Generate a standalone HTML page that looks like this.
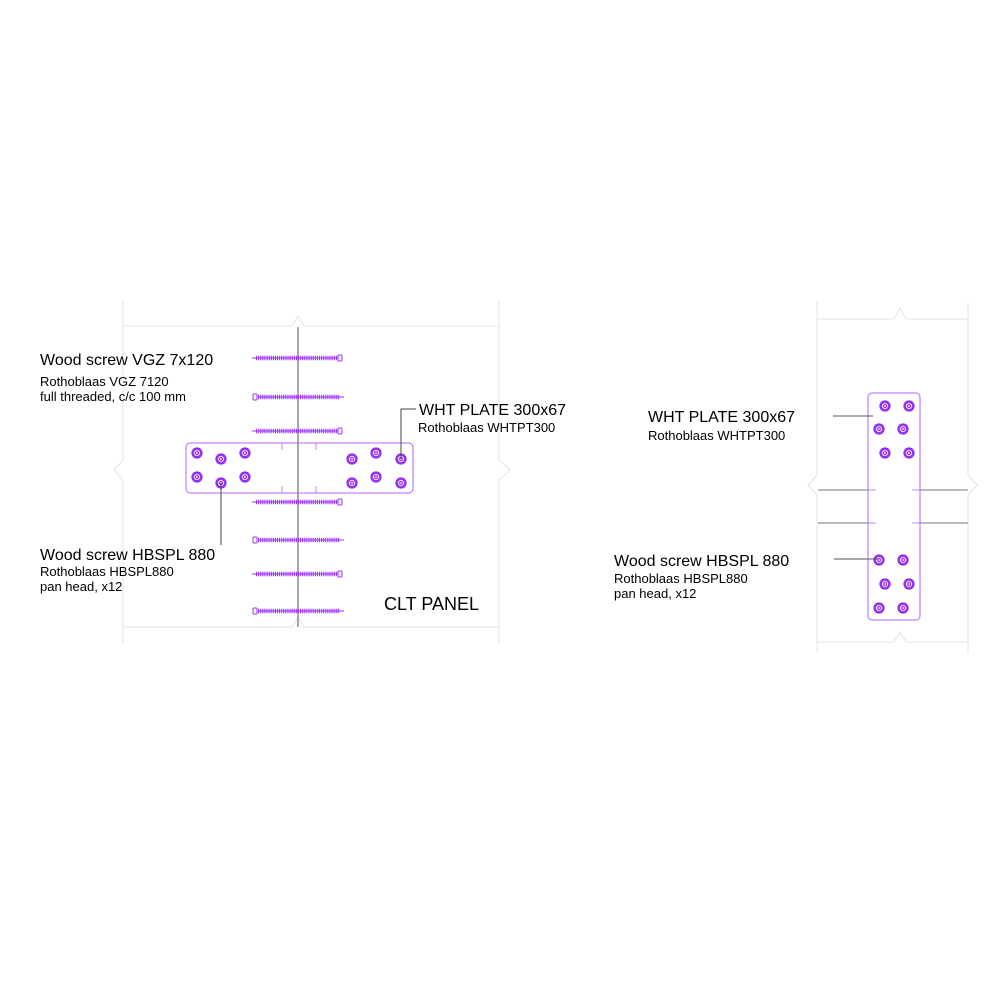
<!DOCTYPE html>
<html><head><style>
body{margin:0;background:#fff;}
svg{display:block;font-family:"Liberation Sans",sans-serif;}
</style></head><body>
<svg width="1000" height="999" viewBox="0 0 1000 999" xmlns="http://www.w3.org/2000/svg">
<defs>
<g id="bolt"><circle r="5.2" fill="#9933ff" stroke="#8a2be2" stroke-width="0.8"/><circle r="2.6" fill="none" stroke="#fff" stroke-width="0.9"/><circle r="0.9" fill="#fff"/></g>
<g id="scrR">
<line x1="256" y1="0" x2="338" y2="0" stroke="#9933ff" stroke-width="4.5" stroke-dasharray="1.1 1"/>
<line x1="252" y1="0" x2="338" y2="0" stroke="#9933ff" stroke-width="1"/>
<rect x="338" y="-3" width="4" height="6" rx="1" fill="#fff" stroke="#9933ff" stroke-width="1"/></g>
<g id="scrL">
<line x1="258" y1="0" x2="340" y2="0" stroke="#9933ff" stroke-width="4.5" stroke-dasharray="1.1 1"/>
<line x1="258" y1="0" x2="344" y2="0" stroke="#9933ff" stroke-width="1"/>
<rect x="253" y="-3" width="4" height="6" rx="1" fill="#fff" stroke="#9933ff" stroke-width="1"/></g>
</defs>
<g stroke="#e3e3e3" stroke-width="1" fill="none">
<polyline points="123,300 123,460 114,470 123,480 123,645"/>
<polyline points="499,300 499,460 510,470 499,480 499,645"/>
<polyline points="123,326 292,326 298,316 304,326 499,326"/>
<polyline points="123,627 292,627 298,617 304,627 499,627"/>
</g>
<line x1="298" y1="327" x2="298" y2="627" stroke="#888" stroke-width="1.5"/>
<use href="#scrR" y="358"/>
<use href="#scrL" y="397"/>
<use href="#scrR" y="431"/>
<use href="#scrR" y="502"/>
<use href="#scrL" y="540"/>
<use href="#scrR" y="574"/>
<use href="#scrL" y="611"/>
<rect x="186" y="443" width="227" height="50" rx="4" fill="#fff" stroke="#b366ff" stroke-width="1"/>
<g stroke="#b366ff" stroke-width="0.8"><line x1="282" y1="443" x2="282" y2="450"/><line x1="316" y1="443" x2="316" y2="450"/><line x1="282" y1="486" x2="282" y2="493"/><line x1="316" y1="486" x2="316" y2="493"/></g>
<line x1="298" y1="443" x2="298" y2="493" stroke="#888" stroke-width="1.5"/>
<use href="#bolt" x="197" y="453"/><use href="#bolt" x="221" y="459"/><use href="#bolt" x="245" y="453"/>
<use href="#bolt" x="197" y="477"/><use href="#bolt" x="221" y="483"/><use href="#bolt" x="245" y="477"/>
<use href="#bolt" x="352" y="459"/><use href="#bolt" x="376" y="453"/><use href="#bolt" x="401" y="459"/>
<use href="#bolt" x="352" y="483"/><use href="#bolt" x="376" y="477"/><use href="#bolt" x="401" y="483"/>
<polyline points="221,483 221,545" stroke="#444" stroke-width="1" fill="none"/>
<polyline points="401,459 401,409 416,409" stroke="#444" stroke-width="1" fill="none"/>
<g fill="#000">
<text x="40" y="365" font-size="16">Wood screw VGZ 7x120</text>
<text x="40" y="386" font-size="13">Rothoblaas VGZ 7120</text>
<text x="40" y="401" font-size="13">full threaded, c/c 100 mm</text>
<text x="419" y="415" font-size="16">WHT PLATE 300x67</text>
<text x="418" y="432" font-size="13">Rothoblaas WHTPT300</text>
<text x="40" y="560" font-size="16">Wood screw HBSPL 880</text>
<text x="40" y="576" font-size="13">Rothoblaas HBSPL880</text>
<text x="40" y="591" font-size="13">pan head, x12</text>
<text x="384" y="610" font-size="18">CLT PANEL</text>
<text x="648" y="422" font-size="16">WHT PLATE 300x67</text>
<text x="648" y="440" font-size="13">Rothoblaas WHTPT300</text>
<text x="614" y="566" font-size="16">Wood screw HBSPL 880</text>
<text x="614" y="583" font-size="13">Rothoblaas HBSPL880</text>
<text x="614" y="598" font-size="13">pan head, x12</text>
</g>
<g stroke="#e3e3e3" stroke-width="1" fill="none">
<polyline points="817,302 817,475 808,485 817,495 817,653"/>
<polyline points="968,302 968,475 977,485 968,495 968,653"/>
<polyline points="817,319 894,319 900,308 906,319 968,319"/>
<polyline points="817,642 894,642 900,632 906,642 968,642"/>
</g>
<g stroke="#777" stroke-width="1">
<line x1="818" y1="490" x2="868" y2="490"/><line x1="920" y1="490" x2="968" y2="490"/>
<line x1="818" y1="523" x2="868" y2="523"/><line x1="920" y1="523" x2="968" y2="523"/>
</g>
<rect x="868" y="393" width="52" height="227" rx="4" fill="#fff" stroke="#b366ff" stroke-width="1"/>
<g stroke="#b366ff" stroke-width="0.8"><line x1="868" y1="490" x2="876" y2="490"/><line x1="912" y1="490" x2="920" y2="490"/><line x1="868" y1="523" x2="876" y2="523"/><line x1="912" y1="523" x2="920" y2="523"/></g>
<use href="#bolt" x="885" y="406"/><use href="#bolt" x="909" y="406"/>
<use href="#bolt" x="879" y="429"/><use href="#bolt" x="903" y="429"/>
<use href="#bolt" x="885" y="453"/><use href="#bolt" x="909" y="453"/>
<use href="#bolt" x="879" y="560"/><use href="#bolt" x="903" y="560"/>
<use href="#bolt" x="885" y="584"/><use href="#bolt" x="909" y="584"/>
<use href="#bolt" x="879" y="608"/><use href="#bolt" x="903" y="608"/>
<g stroke="#555" stroke-width="1">
<line x1="833" y1="416" x2="873" y2="416"/>
<line x1="834" y1="559" x2="878" y2="559"/>
</g>
</svg>
</body></html>
